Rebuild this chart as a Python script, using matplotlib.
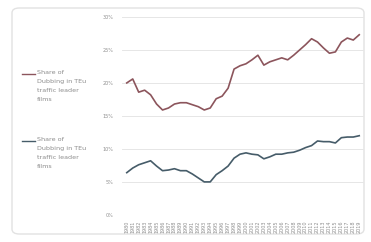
import matplotlib
matplotlib.use("Agg")
import matplotlib.pyplot as plt
from matplotlib.patches import FancyBboxPatch
from matplotlib.lines import Line2D

years = [str(y) for y in range(1980, 2020)]
dub_red = [20.0, 20.6, 18.6, 18.9, 18.2, 16.8, 15.9, 16.2, 16.8, 17.0,
           17.0, 16.7, 16.4, 15.9, 16.2, 17.6, 18.0, 19.2, 22.1, 22.6,
           22.9, 23.5, 24.2, 22.7, 23.2, 23.5, 23.8, 23.5, 24.2, 25.0,
           25.8, 26.7, 26.2, 25.3, 24.5, 24.7, 26.2, 26.8, 26.5, 27.3]
dub_blue = [6.4, 7.1, 7.6, 7.9, 8.2, 7.4, 6.7, 6.8, 7.0, 6.7,
            6.7, 6.2, 5.6, 5.0, 5.0, 6.1, 6.7, 7.4, 8.6, 9.2,
            9.4, 9.2, 9.1, 8.5, 8.8, 9.2, 9.2, 9.4, 9.5, 9.8,
            10.2, 10.5, 11.2, 11.1, 11.1, 10.9, 11.7, 11.8, 11.8, 12.0]
yticks = [0, 5, 10, 15, 20, 25, 30]
label_red = "Share of\nDubbing in TEu\ntraffic leader\nfilms"
label_blue = "Share of\nDubbing in TEu\ntraffic leader\nfilms"

fig = plt.figure(figsize=(3.71, 2.42), dpi=100, facecolor="white")

# card background, behind everything
card = FancyBboxPatch((12 / 371, 8 / 242), 352 / 371, 226 / 242,
                      boxstyle="round,pad=0,rounding_size=0.02",
                      transform=fig.transFigure, facecolor="white",
                      edgecolor="#e2e2e2", linewidth=1.0, zorder=-5)
fig.patches.append(card)

ax = fig.add_axes([122 / 371, 0.112, 242 / 371, 0.818])
ax.set_facecolor("none")
ax.set_zorder(2)
x = list(range(len(years)))
ln1, = ax.plot(x, dub_red, color="#8c555c", linewidth=1.2)
ln2, = ax.plot(x, dub_blue, color="#465c69", linewidth=1.2)

ax.set_ylim(0, 30)
ax.set_xlim(-0.8, 39.8)
ax.set_yticks(yticks)
ax.set_yticklabels([f"{v}%" for v in yticks])
ax.set_xticks(x)
ax.set_xticklabels(years, rotation=90)
ax.tick_params(axis="both", length=0, labelsize=3.5, colors="#8f8f8f", pad=4)
ax.tick_params(axis="y", pad=6)
ax.grid(axis="y", color="#e6e6e6", linewidth=0.7)
ax.set_axisbelow(True)
for s in ax.spines.values():
    s.set_visible(False)

# left-side legend entries
for ln, lab, ytop in [(ln1, label_red, 70), (ln2, label_blue, 137)]:
    fig.add_artist(Line2D([22 / 371, 35 / 371], [1 - (ytop + 4) / 242] * 2,
                          color=ln.get_color(), linewidth=1.0,
                          transform=fig.transFigure))
    fig.text(37 / 371, 1 - ytop / 242, lab, fontsize=4.6, color="#8c8c8c",
             va="top", ha="left", linespacing=2.0)

fig.savefig("out.png", dpi=100, facecolor="white")
